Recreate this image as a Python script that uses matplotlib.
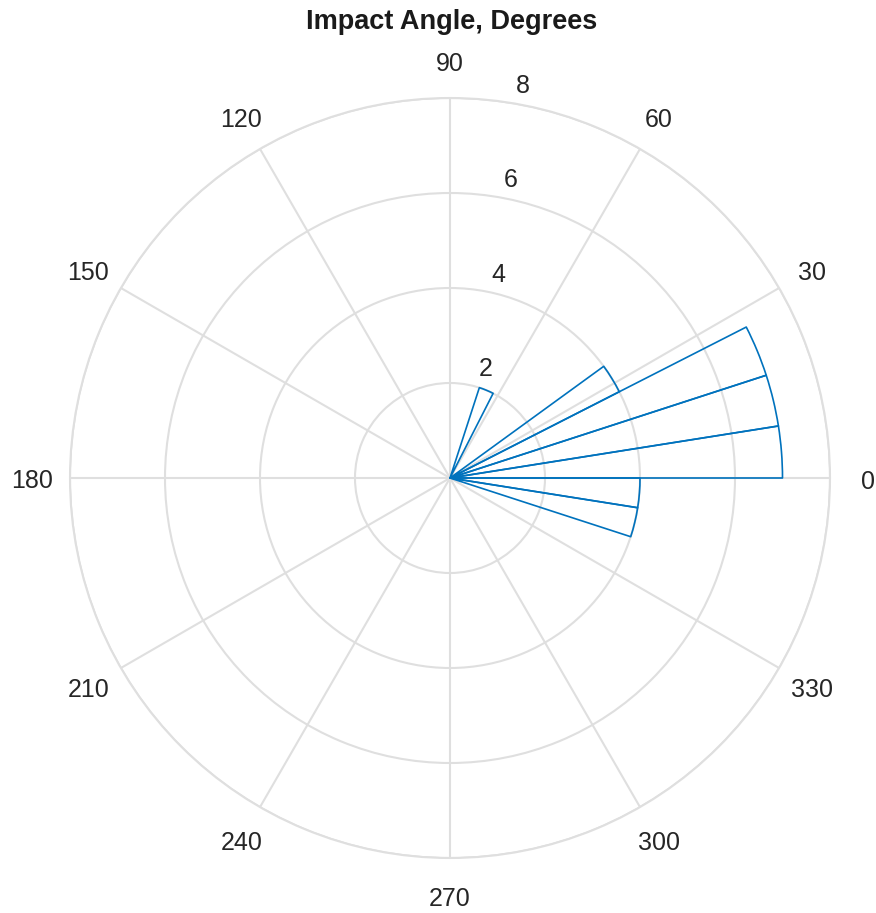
import numpy as np
import matplotlib
matplotlib.use("Agg")
import matplotlib.pyplot as plt
from matplotlib.transforms import ScaledTranslation

plt.rcParams["font.family"] = ["Liberation Sans", "DejaVu Sans"]

# histogram of impact angles, 9-degree bins (only non-empty bins listed)
bin_start_deg = [0, 9, 18, 27, 63, 342, 351]
counts = [7, 7, 7, 4, 2, 4, 4]
bin_width_deg = 9
theta_ticks = list(range(0, 360, 30))
r_ticks = [2, 4, 6, 8]

BLUE = "#0072BD"
GRID = "#dfdfdf"
TXT = "#262626"
W, H, DPI = 876, 913, 100
cx, cy, R = 450, 478, 380
DROP = 3.5  # bbox centre sits above the visual centre of digits

fig = plt.figure(figsize=(W / DPI, H / DPI), dpi=DPI)
ax = fig.add_axes([(cx - R) / W, (H - cy - R) / H, 2 * R / W, 2 * R / H], projection="polar")
ax.set_theta_zero_location("E")
ax.set_theta_direction(1)
ax.set_ylim(0, 8)

ax.bar(np.deg2rad(bin_start_deg), counts, width=np.deg2rad(bin_width_deg), bottom=0,
       align="edge", fill=False, edgecolor=BLUE, linewidth=1.2, joinstyle="round", zorder=3)

ax.set_xticks(np.deg2rad(theta_ticks))
ax.set_xticklabels([])
ax.set_yticks(r_ticks)
ax.set_yticklabels([])
ax.grid(True, color=GRID, linewidth=1.5)
ax.spines["polar"].set_color(GRID)
ax.spines["polar"].set_linewidth(1.5)

# angle labels: centred a fixed distance outside the rim
gap = 37.5
for t in theta_ticks:
    a = np.deg2rad(t)
    off = ScaledTranslation(gap * np.cos(a) / DPI, (gap * np.sin(a) - DROP) / DPI,
                            fig.dpi_scale_trans)
    ax.text(a, 8, str(t), fontsize=18, color=TXT, ha="center", va="center",
            transform=ax.transData + off)

# radial labels sit up and to the right of the 82.5 degree ray (MATLAB style)
off = ScaledTranslation(23.5 / DPI, (18.5 - DROP) / DPI, fig.dpi_scale_trans)
for r in r_ticks:
    ax.text(np.deg2rad(82.5), r, str(r), fontsize=18, color=TXT,
            ha="center", va="center", transform=ax.transData + off)

fig.text(452 / W, 1 - 22 / H, "Impact Angle, Degrees", ha="center", va="center",
         fontsize=19.5, fontweight="bold", color="#1a1a1a")

fig.savefig("out.png", dpi=DPI)
